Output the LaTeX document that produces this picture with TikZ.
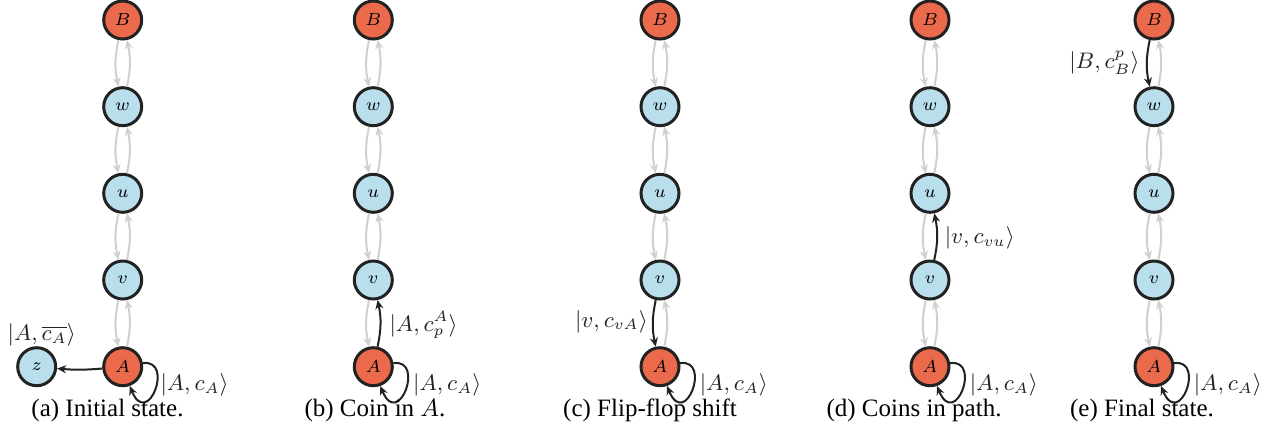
\documentclass[tikz,border=0pt]{standalone}
\usepackage[no-math]{fontspec}
\setmainfont{Liberation Serif}
\usetikzlibrary{arrows.meta,calc}
\definecolor{nred}{RGB}{236,106,76}
\definecolor{nblue}{RGB}{185,222,236}
\definecolor{ngray}{RGB}{208,208,208}
\definecolor{ndark}{RGB}{34,34,34}
\newcommand\mkcol[2]{%
  \node[rn] (#1B) at (#2,20) {$B$};
  \node[bn] (#1w) at (#2,106.7) {$w$};
  \node[bn] (#1u) at (#2,193.3) {$u$};
  \node[bn] (#1v) at (#2,280) {$v$};
  \node[rn] (#1A) at (#2,366.7) {$A$};}
\newcommand\ed[3]{\draw[#1] (#2) to[bend right=12] (#3);}
\newcommand\selfloop[1]{\draw[barr] (#1.10) .. controls ($(#1)+(52,-8)$) and ($(#1)+(25,63)$) .. (#1.-70);}
\begin{document}
\begin{tikzpicture}[x=0.4pt,y=-0.4pt,
  st/.style={circle,draw=ndark,line width=1.2pt,minimum size=15.2pt,inner sep=0pt,font=\scriptsize},
  rn/.style={st,fill=nred},
  bn/.style={st,fill=nblue},
  garr/.style={draw=ngray,line width=0.8pt,-{Stealth[length=3.6pt,width=3.2pt]}},
  barr/.style={draw=ndark,line width=0.8pt,-{Stealth[length=3.6pt,width=3.2pt]}},
  lab/.style={font=\small,inner sep=0pt,text=ndark},
  captxt/.style={font=\normalsize,anchor=base,inner sep=0pt}]
\useasboundingbox (0,0) rectangle (1269,435);
% columns
\mkcol{a}{122.7}
\mkcol{b}{373.3}
\mkcol{c}{660}
\mkcol{d}{930}
\mkcol{e}{1154}
\node[bn] (az) at (36.7,366.7) {$z$};
% (a)
\ed{garr}{aB}{aw}\ed{garr}{aw}{aB}
\ed{garr}{aw}{au}\ed{garr}{au}{aw}
\ed{garr}{au}{av}\ed{garr}{av}{au}
\ed{garr}{av}{aA}\ed{garr}{aA}{av}
\draw[barr] (aA) to[bend left=5] (az);
\selfloop{aA}
\node[lab] (la1) at (41.7,335) {$|A,\overline{c_A}\rangle$};
\node[lab,anchor=west] (la2) at (160,385) {$|A,c_A\rangle$};
% (b)
\ed{garr}{bB}{bw}\ed{garr}{bw}{bB}
\ed{garr}{bw}{bu}\ed{garr}{bu}{bw}
\ed{garr}{bu}{bv}\ed{garr}{bv}{bu}
\ed{garr}{bv}{bA}\ed{barr}{bA}{bv}
\selfloop{bA}
\node[lab,anchor=west] (lb1) at (389,325) {$|A,c_p^A\rangle$};
\node[lab,anchor=west] (lb2) at (412.7,385) {$|A,c_A\rangle$};
% (c)
\ed{garr}{cB}{cw}\ed{garr}{cw}{cB}
\ed{garr}{cw}{cu}\ed{garr}{cu}{cw}
\ed{garr}{cu}{cv}\ed{garr}{cv}{cu}
\ed{barr}{cv}{cA}\ed{garr}{cA}{cv}
\selfloop{cA}
\node[lab,anchor=east] (lc1) at (648.3,321.7) {$|v,c_{vA}\rangle$};
\node[lab,anchor=west] (lc2) at (699.3,385) {$|A,c_A\rangle$};
% (d)
\ed{garr}{dB}{dw}\ed{garr}{dw}{dB}
\ed{garr}{dw}{du}\ed{garr}{du}{dw}
\ed{garr}{du}{dv}\ed{barr}{dv}{du}
\ed{garr}{dv}{dA}\ed{garr}{dA}{dv}
\selfloop{dA}
\node[lab,anchor=west] (ld1) at (944.3,238.3) {$|v,c_{vu}\rangle$};
\node[lab,anchor=west] (ld2) at (969.3,385) {$|A,c_A\rangle$};
% (e)
\ed{barr}{eB}{ew}\ed{garr}{ew}{eB}
\ed{garr}{ew}{eu}\ed{garr}{eu}{ew}
\ed{garr}{eu}{ev}\ed{garr}{ev}{eu}
\ed{garr}{ev}{eA}\ed{garr}{eA}{ev}
\selfloop{eA}
\node[lab,anchor=east] (le1) at (1140,63) {$|B,c_B^p\rangle$};
\node[lab,anchor=west] (le2) at (1193.3,385) {$|A,c_A\rangle$};
% captions
\node[captxt] (ca) at (107.5,416) {(a) Initial state.};
\node[captxt] (cb) at (375,416) {(b) Coin in $A$.};
\node[captxt] (cc) at (650,416) {(c) Flip-flop shift};
\node[captxt] (cd) at (914,416) {(d) Coins in path.};
\node[captxt] (ce) at (1142,416) {(e) Final state.};
\end{tikzpicture}
\end{document}
